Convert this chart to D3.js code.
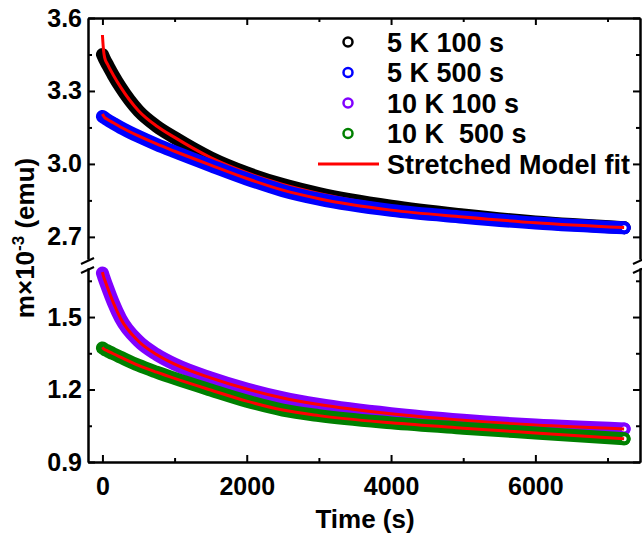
<!DOCTYPE html>
<html>
<head>
<meta charset="utf-8">
<script src="https://cdn.jsdelivr.net/npm/d3@7"></script>
<style>
  body { margin: 0; background: #fff; }
  text { font-family: "Liberation Sans", Arial, sans-serif; font-weight: bold; }
</style>
</head>
<body>
<script>
// time points (s)
const timeS = [0, 15, 30, 70, 150, 250, 500, 750, 1000, 1500, 2000, 2500, 3000, 4000, 5000, 6000, 7230];

// measured moment, m x 10^-3 emu
const m5K100 = [3.45, 3.44, 3.43, 3.408, 3.365, 3.316, 3.218, 3.155, 3.108, 3.025, 2.963, 2.915, 2.878, 2.826, 2.79, 2.761, 2.738];
const m5K500 = [3.195, 3.192, 3.189, 3.181, 3.167, 3.15, 3.113, 3.08, 3.05, 2.993, 2.938, 2.89, 2.855, 2.809, 2.781, 2.757, 2.737];
const m10K100 = [1.682, 1.668, 1.655, 1.622, 1.56, 1.495, 1.40, 1.345, 1.305, 1.248, 1.202, 1.165, 1.138, 1.10, 1.073, 1.053, 1.037];
const m10K500 = [1.372, 1.369, 1.366, 1.36, 1.348, 1.334, 1.30, 1.272, 1.246, 1.198, 1.152, 1.115, 1.092, 1.062, 1.04, 1.02, 0.996];

// stretched model fits
const fit5K100 = [3.53, 3.468, 3.438, 3.41, 3.366, 3.317, 3.219, 3.156, 3.109, 3.026, 2.964, 2.916, 2.879, 2.826, 2.79, 2.761, 2.738];
const fit5K500 = [3.205, 3.197, 3.191, 3.183, 3.169, 3.152, 3.115, 3.082, 3.052, 2.995, 2.94, 2.892, 2.857, 2.81, 2.782, 2.758, 2.738];
const fit10K100 = [1.686, 1.668, 1.655, 1.622, 1.56, 1.495, 1.40, 1.345, 1.305, 1.248, 1.202, 1.165, 1.138, 1.10, 1.073, 1.053, 1.037];
const fit10K500 = [1.375, 1.369, 1.366, 1.36, 1.348, 1.334, 1.30, 1.272, 1.246, 1.198, 1.152, 1.115, 1.092, 1.062, 1.04, 1.02, 0.996];

const seriesNames = ["5 K 100 s", "5 K 500 s", "10 K 100 s", "10 K  500 s"];
const fitName = "Stretched Model fit";

const xTicks = [0, 2000, 4000, 6000];
const xMinor = [1000, 3000, 5000, 7000];
const upperTicks = [2.7, 3.0, 3.3, 3.6];
const upperMinor = [2.85, 3.15, 3.45];
const lowerTicks = [0.9, 1.2, 1.5];
const lowerMinor = [1.05, 1.35, 1.65];

const width = 642, height = 537;
const plotLeft = 88, plotRight = 640, plotTop = 18, plotBottom = 462;
const breakTop = 259, breakBottom = 268;

const svg = d3.select("body").append("svg")
    .attr("width", width)
    .attr("height", height);

const x = d3.scaleLinear().domain([-200, 7450]).range([plotLeft, plotRight]);
const yUp = d3.scaleLinear().domain([2.609, 3.6]).range([breakTop, plotTop]);
const yLo = d3.scaleLinear().domain([0.9, 1.703]).range([plotBottom, breakBottom]);

const series = [
    { name: seriesNames[0], color: "#000000", data: m5K100, fit: fit5K100, y: yUp },
    { name: seriesNames[1], color: "#0000ff", data: m5K500, fit: fit5K500, y: yUp },
    { name: seriesNames[2], color: "#8000ff", data: m10K100, fit: fit10K100, y: yLo },
    { name: seriesNames[3], color: "#008000", data: m10K500, fit: fit10K500, y: yLo }
];

// curves: thick band of overlapping open circles, red fit on top
const plot = svg.append("g");
series.forEach(s => {
    const line = d3.line()
        .x((d, i) => x(timeS[i]))
        .y(d => s.y(d))
        .curve(d3.curveMonotoneX);

    plot.append("path")
        .attr("d", line(s.data))
        .attr("fill", "none")
        .attr("stroke", s.color)
        .attr("stroke-width", 13)
        .attr("stroke-linecap", "round")
        .attr("stroke-linejoin", "round");

    // last marker shows as an open circle
    const n = s.data.length - 1;
    plot.append("circle")
        .attr("cx", x(timeS[n]))
        .attr("cy", s.y(s.data[n]))
        .attr("r", 4.5)
        .attr("fill", "#fff")
        .attr("stroke", s.color)
        .attr("stroke-width", 4);

    plot.append("path")
        .attr("d", line(s.fit))
        .attr("fill", "none")
        .attr("stroke", "#ff0000")
        .attr("stroke-width", 3);
});

// axes
function styleAxis(g) {
    g.selectAll("path, line").attr("stroke", "#000").attr("stroke-width", 2);
    g.selectAll("text").attr("fill", "#000").style("font-size", "25px")
        .style("font-family", "'Liberation Sans', Arial, sans-serif").style("font-weight", "bold");
}

// bottom
svg.append("g").attr("transform", `translate(0,${plotBottom})`)
    .call(d3.axisBottom(x).tickValues(xTicks).tickSize(-7).tickSizeOuter(0).tickPadding(10).tickFormat(d3.format("d")))
    .call(styleAxis)
    .call(g => g.selectAll("text").attr("dy", "0.9em"));
svg.append("g").attr("transform", `translate(0,${plotBottom})`)
    .call(d3.axisBottom(x).tickValues(xMinor).tickSize(-4).tickSizeOuter(0).tickFormat(""))
    .call(styleAxis);
// top
svg.append("g").attr("transform", `translate(0,${plotTop})`)
    .call(d3.axisTop(x).tickValues(xTicks).tickSize(-7).tickSizeOuter(0).tickFormat(""))
    .call(styleAxis);
svg.append("g").attr("transform", `translate(0,${plotTop})`)
    .call(d3.axisTop(x).tickValues(xMinor).tickSize(-4).tickSizeOuter(0).tickFormat(""))
    .call(styleAxis);

[[yUp, upperTicks, upperMinor], [yLo, lowerTicks, lowerMinor]].forEach(([y, major, minor]) => {
    svg.append("g").attr("transform", `translate(${plotLeft},0)`)
        .call(d3.axisLeft(y).tickValues(major).tickSize(-7).tickSizeOuter(0).tickPadding(6).tickFormat(d3.format(".1f")))
        .call(styleAxis);
    svg.append("g").attr("transform", `translate(${plotLeft},0)`)
        .call(d3.axisLeft(y).tickValues(minor).tickSize(-4).tickSizeOuter(0).tickFormat(""))
        .call(styleAxis);
    svg.append("g").attr("transform", `translate(${plotRight},0)`)
        .call(d3.axisRight(y).tickValues(major).tickSize(-7).tickSizeOuter(0).tickFormat(""))
        .call(styleAxis);
    svg.append("g").attr("transform", `translate(${plotRight},0)`)
        .call(d3.axisRight(y).tickValues(minor).tickSize(-4).tickSizeOuter(0).tickFormat(""))
        .call(styleAxis);
});

// break marks
[plotLeft, plotRight].forEach(ax => {
    [breakTop + 2, breakBottom + 2].forEach(yy => {
        svg.append("line")
            .attr("x1", ax - 7).attr("y1", yy + 3)
            .attr("x2", ax + 6).attr("y2", yy - 3)
            .attr("stroke", "#000").attr("stroke-width", 2);
    });
});

// axis titles
svg.append("text")
    .attr("x", 365).attr("y", 528)
    .attr("text-anchor", "middle")
    .style("font-size", "26px")
    .text("Time (s)");

const yTitle = svg.append("text")
    .attr("transform", "translate(34,238) rotate(-90)")
    .attr("text-anchor", "middle")
    .style("font-size", "26px");
yTitle.append("tspan").text("m\u00d710");
yTitle.append("tspan").attr("dy", -10).style("font-size", "17px").text("-3");
yTitle.append("tspan").attr("dy", 10).text(" (emu)");

// legend
const legend = svg.append("g");
series.forEach((s, i) => {
    const ly = 42 + i * 30.5;
    legend.append("circle")
        .attr("cx", 348).attr("cy", ly).attr("r", 4.5)
        .attr("fill", "none").attr("stroke", s.color).attr("stroke-width", 2.5);
    legend.append("text")
        .attr("x", 387).attr("y", ly + 9.5)
        .style("font-size", "27px")
        .style("white-space", "pre")
        .attr("xml:space", "preserve")
        .text(s.name);
});
legend.append("line")
    .attr("x1", 318).attr("x2", 379).attr("y1", 164).attr("y2", 164)
    .attr("stroke", "#ff0000").attr("stroke-width", 3);
legend.append("text")
    .attr("x", 387).attr("y", 173.5)
    .style("font-size", "27px")
    .text(fitName);
</script>
</body>
</html>
